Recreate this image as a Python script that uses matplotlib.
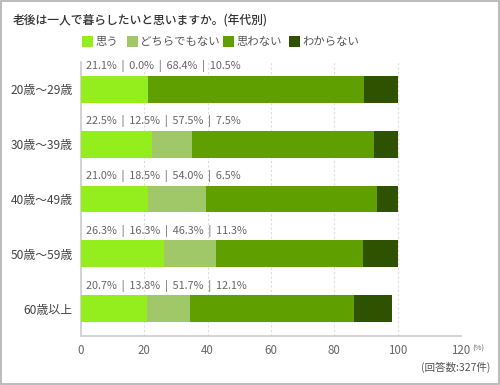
import matplotlib
matplotlib.use("Agg")
import matplotlib.pyplot as plt
from matplotlib.patches import Rectangle

plt.rcParams['font.family'] = ['Noto Sans CJK JP', 'DejaVu Sans']

# data
ages = ["20歳～29歳", "30歳～39歳", "40歳～49歳", "50歳～59歳", "60歳以上"]
omou = [21.1, 22.5, 21.0, 26.3, 20.7]
dochira = [0.0, 12.5, 18.5, 16.3, 13.8]
omowanai = [68.4, 57.5, 54.0, 46.3, 51.7]
wakaranai = [10.5, 7.5, 6.5, 11.3, 12.1]
series_names = ["思う", "どちらでもない", "思わない", "わからない"]
colors = ["#94ee1e", "#a0c868", "#5fa000", "#2f5200"]
xticks = [0, 20, 40, 60, 80, 100, 120]

fig = plt.figure(figsize=(5, 3.85), dpi=100)
fig.patches.append(Rectangle((0.002, 0.002), 0.996, 0.996, transform=fig.transFigure,
                             fill=False, edgecolor="#b0b0b0", linewidth=1.2))

ax = fig.add_axes([0.162, 0.127, 0.76, 0.712])
series = [omou, dochira, omowanai, wakaranai]
ypos = list(range(len(ages)))
left = [0] * len(ages)
for vals, c in zip(series, colors):
    ax.barh(ypos, vals, left=left, color=c, height=0.49, zorder=3)
    left = [l + v for l, v in zip(left, vals)]

for i in ypos:
    txt = "  |  ".join(f"{s[i]:.1f}%" for s in series)
    ax.text(1.5, i - 0.31, txt, fontsize=7.8, color="#666666", va="bottom", ha="left")

ax.set_xlim(0, 120)
ax.set_ylim(len(ages) - 0.5, -0.5)
ax.set_xticks(xticks)
ax.set_xticklabels([str(t) for t in xticks], fontsize=8.3, color="#666666")
ax.set_yticks(ypos)
ax.set_yticklabels(ages, fontsize=8.6, color="#444444")
ax.tick_params(length=0, pad=6)
ax.tick_params(axis="y", pad=6)
ax.grid(axis="x", color="#dddddd", linestyle=(0, (2, 2)), linewidth=0.8, zorder=0)
for side in ["top", "right"]:
    ax.spines[side].set_visible(False)
for side in ["left", "bottom"]:
    ax.spines[side].set_color("#cccccc")
    ax.spines[side].set_linewidth(1.2)

fig.text(0.944, 0.094, "(%)", fontsize=5.5, color="#666666", ha="left", va="center")
fig.text(0.98, 0.046, "(回答数:327件)", fontsize=7.6, color="#555555", ha="right", va="center")

fig.text(0.026, 0.948, "老後は一人で暮らしたいと思いますか。(年代別)", fontsize=8.5,
         color="#333333", ha="left", va="center", fontweight="medium")

# legend
lx = [0.164, 0.254, 0.446, 0.578]
for x, name, c in zip(lx, series_names, colors):
    fig.patches.append(Rectangle((x, 0.877), 0.022, 0.029, transform=fig.transFigure,
                                 facecolor=c, edgecolor="none"))
    fig.text(x + 0.026, 0.891, name, fontsize=8.2, color="#555555", ha="left", va="center")

fig.savefig("out.png", dpi=100, facecolor="white")
